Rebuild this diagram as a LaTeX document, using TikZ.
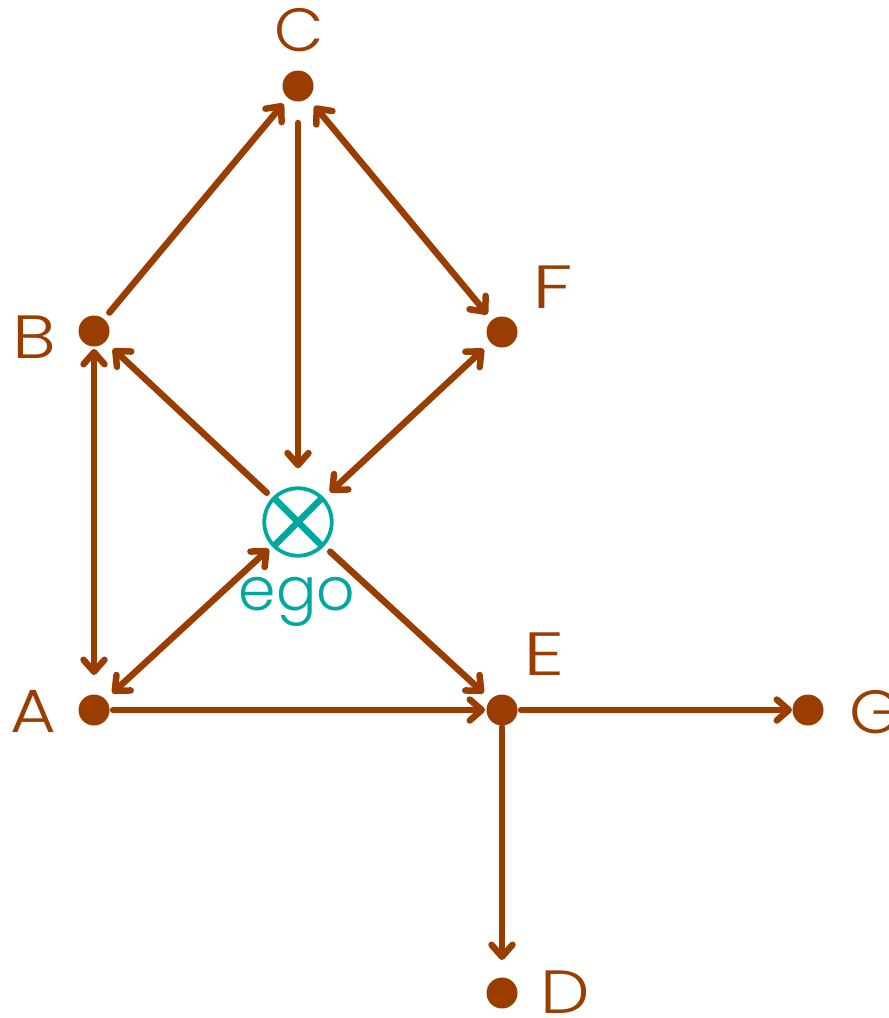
\documentclass[tikz,border=0pt]{standalone}
\usepackage{fontspec}
\setmainfont{Poppins}
\newfontfamily\labfont{Poppins Light}
\usetikzlibrary{arrows.meta}
\definecolor{brn}{HTML}{993D00}
\definecolor{tl}{HTML}{00A99D}
\newcommand{\wid}[2]{\scalebox{#1}[1]{#2}}
\tikzset{
  dot/.style={circle,fill=brn,minimum size=31pt,inner sep=0pt,outer sep=0pt},
  lab/.style={text=brn,inner sep=0pt,font=\labfont\fontsize{61}{61}\selectfont},
  conn/.style={draw=brn,line width=6.5pt,line cap=round,line join=round},
  tip/.style={-{Straight Barb[length=12pt,width=21pt,round]}},
  dtip/.style={{Straight Barb[length=12pt,width=21pt,round]}-{Straight Barb[length=12pt,width=21pt,round]}},
  egonode/.style={circle,draw=tl,line width=3.8pt,minimum size=67.5pt,inner sep=0pt,outer sep=0pt}
}
\begin{document}
\begin{tikzpicture}[x=1pt,y=-1pt]
\useasboundingbox (0,0) rectangle (889,1018);
% nodes
\node[dot] (C) at (298,86) {};
\node[dot] (B) at (94,331) {};
\node[dot] (F) at (502,332) {};
\node[egonode] (ego) at (298,522) {};
\node[dot] (A) at (94,710) {};
\node[dot] (E) at (502,710) {};
\node[dot] (G) at (808,710) {};
\node[dot] (D) at (502,993) {};
\draw[tl,line width=6.5pt,shorten >=1pt,shorten <=1pt] (ego.north west) -- (ego.south east);
\draw[tl,line width=6.5pt,shorten >=1pt,shorten <=1pt] (ego.north east) -- (ego.south west);
% labels
\node[lab] (lC) at (299,30) {\wid{1.05}{C}};
\node[lab,anchor=east] (lB) at (56,337) {\wid{1.2}{B}};
\node[lab] (lF) at (553,287) {\wid{1.35}{F}};
\node[lab,anchor=east] (lA) at (56,711) {\wid{1.15}{A}};
\node[lab] (lE) at (544,654) {\wid{1.35}{E}};
\node[lab,anchor=west] (lG) at (849,712) {\wid{1.1}{G}};
\node[lab] (lD) at (565,992) {\wid{1.15}{D}};
\node[text=tl,inner sep=0pt,anchor=base,font=\labfont\fontsize{60}{60}\selectfont] (lego) at (297,610) {ego};
% connectors
\draw[conn,tip,shorten <=8.5pt,shorten >=7.5pt] (B) -- (C);
\draw[conn,tip,shorten <=21.5pt,shorten >=20pt] (C) -- (ego);
\draw[conn,dtip,shorten <=10.5pt,shorten >=7.5pt] (C) -- (F);
\draw[conn,dtip,shorten <=10pt,shorten >=9.5pt] (ego) -- (F);
\draw[conn,tip,shorten <=9pt,shorten >=10.5pt] (ego) -- (B);
\draw[conn,dtip,shorten <=2.5pt,shorten >=19.5pt] (B) -- (A);
\draw[conn,dtip,shorten <=9.5pt,shorten >=6pt] (A) -- (ego);
\draw[conn,tip,shorten <=10pt,shorten >=9.5pt] (ego) -- (E);
\draw[conn,tip,shorten <=3.5pt,shorten >=1.5pt] (A) -- (E);
\draw[conn,tip,shorten <=3.5pt,shorten >=0.5pt] (E) -- (G);
\draw[conn,tip,shorten <=1.5pt,shorten >=17.5pt] (E) -- (D);
\end{tikzpicture}
\end{document}
